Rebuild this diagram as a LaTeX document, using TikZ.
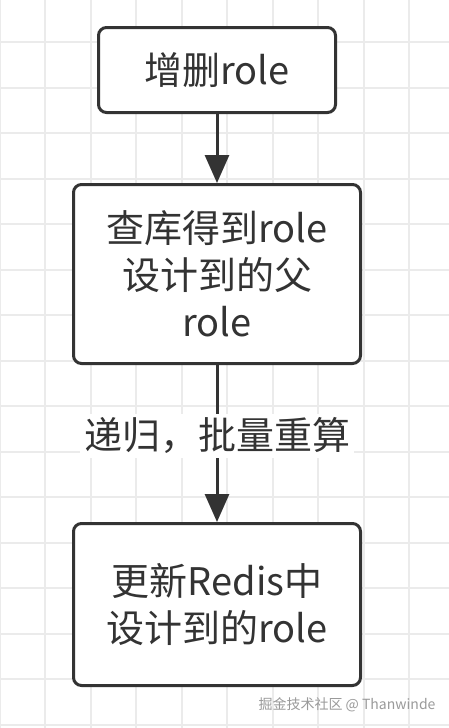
\documentclass[tikz,border=0pt]{standalone}
\usepackage{fontspec}
\setmainfont{Noto Sans CJK SC}
\usetikzlibrary{arrows.meta,positioning}
\definecolor{flowink}{HTML}{333333}
\definecolor{gridgray}{HTML}{EBEBEB}
\definecolor{markgray}{HTML}{9A9A9A}
\tikzset{
  procbox/.style={
    rounded corners=8pt,
    draw=flowink,
    fill=white,
    line width=3pt,
    text=flowink,
    align=center,
    inner sep=0pt,
    font=\fontsize{38}{47}\selectfont
  },
  arrow/.style={
    -{Triangle[length=28pt,width=24pt]},
    line width=3pt,
    draw=flowink
  },
  edgelabel/.style={
    fill=white,
    text=flowink,
    inner sep=4pt,
    font=\fontsize{38}{47}\selectfont
  }
}

\begin{document}
\begin{tikzpicture}[x=1pt,y=-1pt]
\useasboundingbox (0,0) rectangle (449,728);
\fill[white] (0,0) rectangle (449,728);
% grid
\foreach \i in {-1,...,8}
  \draw[gridgray, line width=2pt] (45+45.5*\i,0) -- (45+45.5*\i,728);
\foreach \j in {0,...,15}
  \draw[gridgray, line width=2pt] (0,42+45.5*\j) -- (449,42+45.5*\j);

\node[procbox, minimum width=237pt, minimum height=85pt] (change) at (217,70) {增删role};
\node[procbox, minimum width=287pt, minimum height=179pt, below=69pt of change] (query) {查库得到role\\设计到的父\\role};
\node[procbox, minimum width=287pt, minimum height=162pt, below=157pt of query] (update) {更新Redis中\\设计到的role};
\draw[arrow] (change) -- (query);
\draw[arrow] (query) -- node[edgelabel, pos=0.45] (recalc) {递归，批量重算} (update);

\node[text=markgray, font=\fontsize{14}{14}\selectfont] (mark) at (347,705) {掘金技术社区 @ Thanwinde};
\end{tikzpicture}
\end{document}
